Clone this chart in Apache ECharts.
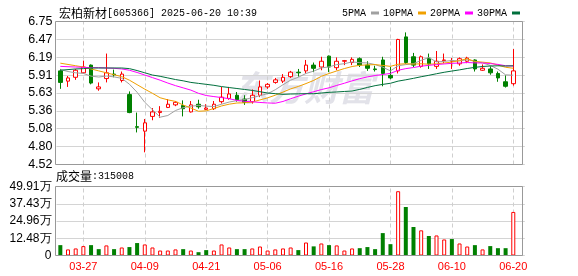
<!DOCTYPE html>
<html><head><meta charset="utf-8">
<script src="https://cdn.jsdelivr.net/npm/echarts@6/dist/echarts.min.js"></script>
<style>html,body{margin:0;padding:0;background:#fff}#c{width:578px;height:276px}</style>
</head><body><div id="c"></div>
<script>
const stockName = '宏柏新材';
const stockCode = '605366';
const stamp = '2025-06-20 10:39';

const dates = ['03-24','03-25','03-26','03-27','03-28','03-31','04-01','04-02','04-03','04-07',
  '04-08','04-09','04-10','04-11','04-14','04-15','04-16','04-17','04-18','04-21',
  '04-22','04-23','04-24','04-25','04-28','04-29','04-30','05-06','05-07','05-08',
  '05-09','05-12','05-13','05-14','05-15','05-16','05-19','05-20','05-21','05-22',
  '05-23','05-26','05-27','05-28','05-29','05-30','06-03','06-04','06-05','06-06',
  '06-09','06-10','06-11','06-12','06-13','06-16','06-17','06-18','06-19','06-20'];
const opens = [5.98,5.82,5.88,5.95,6.07,5.70,5.86,5.93,5.83,5.61,
  5.11,5.04,5.27,5.33,5.41,5.45,5.44,5.34,5.46,5.38,
  5.39,5.50,5.55,5.60,5.54,5.50,5.60,5.73,5.80,5.82,
  5.89,5.96,5.98,6.07,6.04,6.21,6.03,6.13,6.11,6.17,
  6.07,6.01,6.15,5.91,5.98,6.51,6.20,6.05,6.18,6.05,
  6.14,6.13,6.09,6.13,6.15,5.99,6.01,5.94,5.81,5.78];
const closes = [5.80,5.87,5.99,6.04,5.79,5.73,5.95,5.92,5.93,5.33,
  5.10,5.17,5.34,5.35,5.46,5.49,5.39,5.45,5.42,5.40,
  5.46,5.57,5.62,5.53,5.49,5.60,5.73,5.77,5.84,5.88,
  5.96,5.95,6.07,6.02,6.13,6.04,6.13,6.14,6.16,6.07,
  6.02,6.00,5.94,5.87,6.47,6.11,6.07,6.20,6.09,6.13,
  6.15,6.14,6.17,6.18,6.01,6.02,5.95,5.87,5.74,5.98];
const lows = [5.70,5.73,5.84,5.94,5.77,5.67,5.80,5.88,5.80,5.32,
  5.02,4.71,5.21,5.25,5.40,5.43,5.27,5.33,5.39,5.37,
  5.37,5.47,5.53,5.50,5.45,5.47,5.57,5.70,5.78,5.79,
  5.87,5.89,5.94,5.96,5.99,5.96,5.99,6.07,6.07,6.04,
  5.98,5.97,5.74,5.85,5.94,6.09,6.04,6.03,6.01,6.01,
  6.10,6.01,6.06,6.10,5.97,5.98,5.92,5.81,5.72,5.75];
const highs = [6.01,5.90,6.01,6.14,6.08,5.80,6.25,6.00,5.97,5.66,
  5.33,5.23,5.40,5.43,5.54,5.51,5.52,5.51,5.53,5.46,
  5.51,5.73,5.73,5.65,5.60,5.69,5.83,5.79,5.87,5.93,
  5.98,6.01,6.15,6.11,6.20,6.22,6.19,6.15,6.19,6.19,
  6.13,6.06,6.20,6.04,6.48,6.58,6.26,6.22,6.25,6.29,
  6.25,6.18,6.19,6.20,6.16,6.08,6.05,5.97,5.91,6.32];
const volumes = [75000,44000,51000,68000,75000,46000,73000,46000,58000,61000,
  90000,80000,58000,36000,36000,44000,46000,36000,24000,39000,
  36000,80000,58000,46000,46000,51000,65000,36000,44000,51000,
  58000,39000,94000,66000,87000,75000,73000,36000,51000,53000,
  61000,46000,162000,82000,465000,351000,206000,182000,141000,145000,
  116000,119000,87000,65000,75000,44000,68000,53000,53000,315008];

const ma5Lead = [6.00,5.97,5.95,5.94];
const ma10Lead = [6.10,6.08,6.06,6.04,6.01,5.98,5.95,5.92,5.89];
const ma20Lead = [6.05,6.045,6.04,6.035,6.03,6.03,6.025,6.02,6.01,5.99,
  5.955,5.915,5.875,5.835,5.79,5.75,5.715,5.68,5.63];
const ma30Lead = [5.99,6.00,6.01,6.015,6.025,6.025,6.025,6.025,6.025,6.015,
  5.985,5.95,5.915,5.895,5.87,5.845,5.825,5.80,5.785,5.77,
  5.755,5.735,5.72,5.705,5.69,5.675,5.655,5.635,5.625];

const labelDates = ['03-27','04-09','04-21','05-06','05-16','05-28','06-10','06-20'];
const priceTicks = ['4.52','4.80','5.08','5.36','5.63','5.91','6.19','6.47','6.75'];
const volTicks = ['0','12.48万','24.96万','37.43万','49.91万'];
const priceMin = 4.52, priceMax = 6.75;
const volMax = 499100;

const legendNames = ['5PMA','10PMA','20PMA','30PMA'];
const maColors = ['#a0a0a0','#f0a000','#ff00ff','#006f3c'];
const RED = '#ff0000', GREEN = '#008000';

function movingAverage(n, lead) {
  return closes.map((c, i) => {
    if (i < lead.length) return lead[i];
    if (i < n - 1) return null;
    let s = 0;
    for (let k = i - n + 1; k <= i; k++) s += closes[k];
    return +(s / n).toFixed(4);
  });
}
const maData = [movingAverage(5, ma5Lead), movingAverage(10, ma10Lead),
                movingAverage(20, ma20Lead), movingAverage(30, ma30Lead)];

const categories = dates.concat(['']);
const priceInterval = (priceMax - priceMin) / 8;
const volInterval = volMax / 4;

const markLineCfg = {
  silent: true, symbol: ['none', 'none'], label: { show: false }, z: 1,
  lineStyle: { color: '#cfcfcf', type: [4, 3], width: 1 },
  emphasis: { disabled: true },
  data: labelDates.map(d => ({ xAxis: d }))
};

const gridLeft = 56.5, gridWidth = 468.3;

const chart = echarts.init(document.getElementById('c'), null, { renderer: 'canvas' });
chart.setOption({
  animation: false,
  backgroundColor: '#fff',
  title: {
    left: 54, top: 2,
    text: '{c|' + stockName + '}{a|[' + stockCode + '] ' + stamp + '}',
    textStyle: {
      fontWeight: 'normal',
      rich: {
        c: { fontFamily: 'Noto Sans CJK SC', fontSize: 12, fontWeight: 'normal', color: '#000' },
        a: { fontFamily: 'Liberation Mono', fontSize: 10, fontWeight: 'normal', color: '#000' }
      }
    }
  },
  legend: {
    data: legendNames, left: 337, top: 3, align: 'right', icon: 'rect',
    itemWidth: 8, itemHeight: 3, itemGap: 4, selectedMode: false,
    textStyle: { fontFamily: 'Liberation Mono', fontSize: 10, color: '#000', padding: [0, 0, 0, 0] }
  },
  grid: [
    { left: gridLeft, width: gridWidth, top: 21.5, height: 143 },
    { left: gridLeft, width: gridWidth, top: 186.5, height: 69 }
  ],
  xAxis: [
    { type: 'category', gridIndex: 0, data: categories, boundaryGap: true, show: false },
    { type: 'category', gridIndex: 1, data: categories, boundaryGap: true,
      axisLine: { show: false }, axisTick: { show: false }, splitLine: { show: false },
      axisLabel: { interval: (i, v) => labelDates.indexOf(v) >= 0, color: RED,
        fontFamily: 'Liberation Sans', fontSize: 11, margin: 6 } }
  ],
  yAxis: [
    { type: 'value', gridIndex: 0, min: priceMin, max: priceMax, interval: priceInterval, scale: true,
      axisLine: { show: false }, axisTick: { show: false },
      splitLine: { lineStyle: { color: '#d4d4d4', width: 1 } },
      axisLabel: { margin: 4, color: '#000', fontFamily: 'Liberation Sans', fontSize: 12.5,
        formatter: v => priceTicks[Math.round((v - priceMin) / priceInterval)] || '' } },
    { type: 'value', gridIndex: 1, min: 0, max: volMax, interval: volInterval,
      axisLine: { show: false }, axisTick: { show: false },
      splitLine: { lineStyle: { color: '#d4d4d4', width: 1 } },
      axisLabel: { margin: 5, color: '#000', fontFamily: 'Liberation Sans', fontSize: 12,
        formatter: v => volTicks[Math.round(v / volInterval)] || '' } }
  ],
  graphic: [
    { type: 'text', left: 234, top: 70, z: 0, silent: true,
      style: { text: '东方财富', font: 'italic bold 35px "Noto Sans CJK SC"', fill: '#e2e2e9' } },
    { type: 'rect', z: 100, silent: true, shape: { x: 55.5, y: 21.5, width: 467, height: 143 },
      style: { fill: 'none', stroke: '#999', lineWidth: 1 } },
    { type: 'rect', z: 100, silent: true, shape: { x: 55.5, y: 186.5, width: 467, height: 69 },
      style: { fill: 'none', stroke: '#999', lineWidth: 1 } },
    { type: 'text', left: 56, top: 170, z: 100, silent: true,
      style: {
        text: '{c|成交量}{a|:' + volumes[volumes.length - 1] + '}',
        rich: {
          c: { fontFamily: 'Noto Sans CJK SC', fontSize: 12, fill: '#000' },
          a: { fontFamily: 'Liberation Mono', fontSize: 10, fill: '#000' }
        }
      } }
  ],
  series: [
    { type: 'candlestick', name: 'K', xAxisIndex: 0, yAxisIndex: 0, barWidth: 4,
      data: dates.map((d, i) => [opens[i], closes[i], lows[i], highs[i]]),
      itemStyle: { color: '#fff', color0: GREEN, borderColor: RED, borderColor0: GREEN, borderWidth: 1 },
      emphasis: { disabled: true },
      markLine: markLineCfg },
    ...legendNames.map((n, k) => ({
      type: 'line', name: n, xAxisIndex: 0, yAxisIndex: 0, data: maData[k],
      symbol: 'none', showSymbol: false, smooth: false, connectNulls: false,
      lineStyle: { width: 1, color: maColors[k] }, itemStyle: { color: maColors[k] },
      emphasis: { disabled: true }, z: 3
    })),
    { type: 'bar', name: 'VOL', xAxisIndex: 1, yAxisIndex: 1, barWidth: 4,
      data: volumes.map((v, i) => {
        const ref = i === 0 ? opens[0] : closes[i - 1];
        const up = closes[i] >= ref;
        return { value: v, itemStyle: up
          ? { color: '#fff', borderColor: RED, borderWidth: 1 }
          : { color: GREEN, borderWidth: 0 } };
      }),
      emphasis: { disabled: true },
      markLine: markLineCfg }
  ]
});
</script>
</body></html>
